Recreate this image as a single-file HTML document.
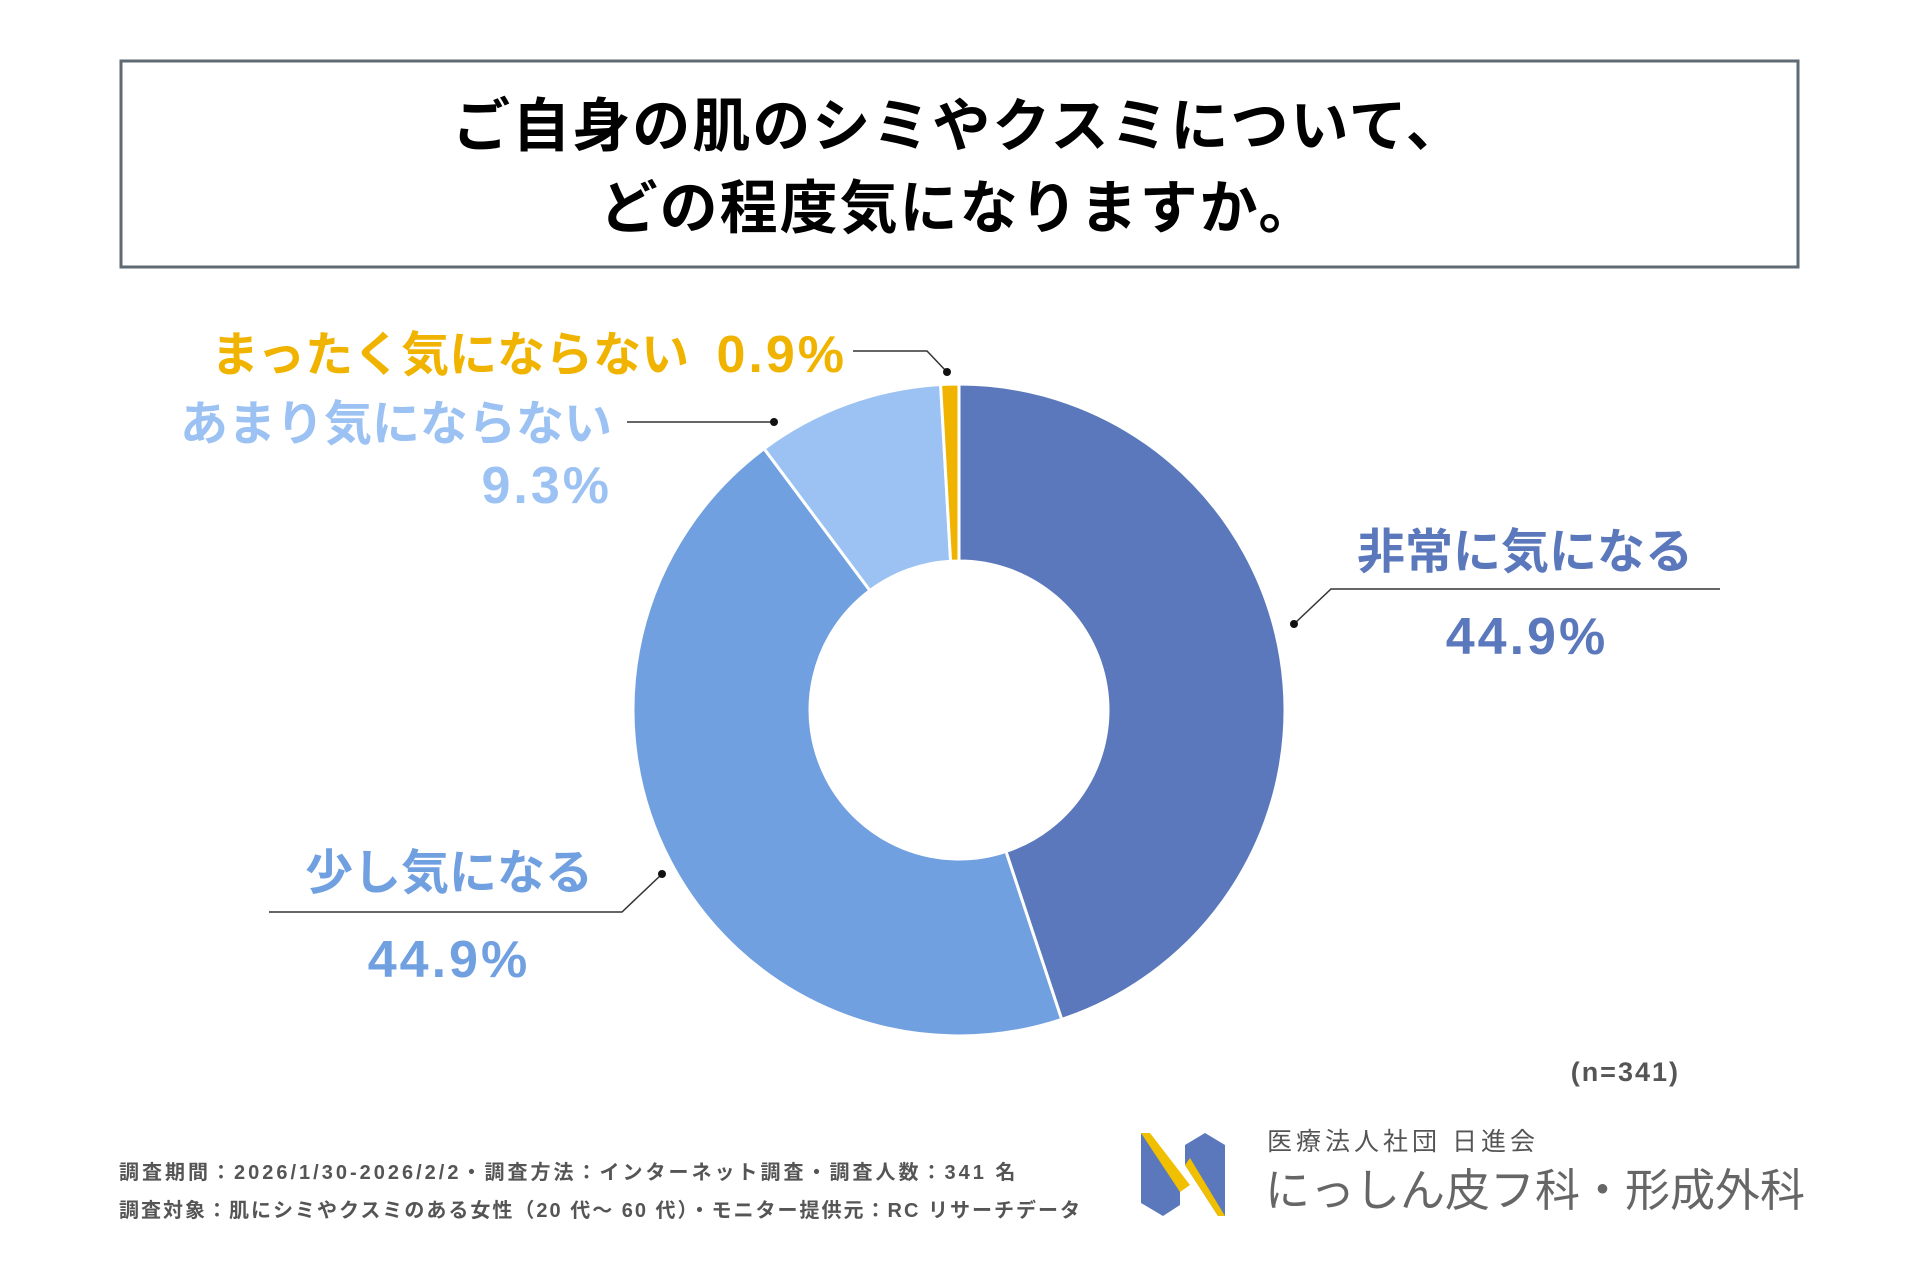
<!DOCTYPE html>
<html><head><meta charset="utf-8">
<style>
body{margin:0;width:1920px;height:1280px;background:#fff;overflow:hidden;font-family:"Liberation Sans","Noto Sans CJK JP",sans-serif;}
svg text{font-family:"Liberation Sans","Noto Sans CJK JP",sans-serif;}
</style></head>
<body>
<svg width="1920" height="1280" viewBox="0 0 1920 1280" xmlns="http://www.w3.org/2000/svg">
  <rect x="121" y="61" width="1677" height="206" fill="#fff" stroke="#5f6a72" stroke-width="3"/>
  <text x="959" y="146" text-anchor="middle" font-size="58" font-weight="bold" letter-spacing="2" fill="#000">ご自身の肌のシミやクスミについて、</text>
  <text x="959" y="228" text-anchor="middle" font-size="58" font-weight="bold" letter-spacing="2" fill="#000">どの程度気になりますか。</text>
  <g id="donut"></g>
  <g>
    <text x="1525" y="568" text-anchor="middle" font-size="48" font-weight="bold" fill="#5a78bb">非常に気になる</text>
    <text id="v0" x="1527" y="654" text-anchor="middle" font-size="52" font-weight="bold" letter-spacing="3" fill="#5a78bb"></text>
    <polyline points="1294,624 1331,589 1720,589" fill="none" stroke="#333" stroke-width="1.5"/>
    <circle cx="1294" cy="624" r="4" fill="#111"/>

    <text x="449" y="889" text-anchor="middle" font-size="48" font-weight="bold" fill="#71a0e0">少し気になる</text>
    <text id="v1" x="449" y="977" text-anchor="middle" font-size="52" font-weight="bold" letter-spacing="3" fill="#71a0e0"></text>
    <polyline points="269,912 622,912 662,874" fill="none" stroke="#333" stroke-width="1.5"/>
    <circle cx="662" cy="874" r="4" fill="#111"/>

    <text x="612" y="440" text-anchor="end" font-size="48" font-weight="bold" fill="#9bc2f2">あまり気にならない</text>
    <text id="v2" x="612" y="503" text-anchor="end" font-size="52" font-weight="bold" letter-spacing="3" fill="#9bc2f2"></text>
    <line x1="627" y1="422" x2="774" y2="422" stroke="#333" stroke-width="1.5"/>
    <circle cx="774" cy="422" r="4" fill="#111"/>

    <text x="211" y="371" font-size="48" font-weight="bold" fill="#f0b400">まったく気にならない</text>
    <text id="v3" x="847" y="372" text-anchor="end" font-size="52" font-weight="bold" letter-spacing="3" fill="#f0b400"></text>
    <polyline points="853,351 927,351 947,372" fill="none" stroke="#333" stroke-width="1.5"/>
    <circle cx="947" cy="372" r="4" fill="#111"/>
  </g>
  <text x="1680" y="1081" text-anchor="end" font-size="27" font-weight="bold" letter-spacing="2" fill="#555">(n=341)</text>
  <text x="119" y="1179" font-size="20" font-weight="bold" letter-spacing="3" fill="#555">調査期間：2026/1/30-2026/2/2・調査方法：インターネット調査・調査人数：341 名</text>
  <text x="119" y="1217" font-size="20" font-weight="bold" letter-spacing="2.0" fill="#555">調査対象：肌にシミやクスミのある女性（20 代～ 60 代）・モニター提供元：RC リサーチデータ</text>
  <g>
    <polygon points="1141,1133 1180,1180 1180,1205 1163,1216 1141,1203" fill="#5a78bb"/>
    <polygon points="1141,1133 1150,1133 1190,1185 1180,1192" fill="#f0c000"/>
    <polygon points="1205,1133 1225,1145 1225,1216 1218,1216 1185,1165 1185,1145" fill="#5a78bb"/>
    <polygon points="1185,1165 1218,1216 1225,1216 1190,1158" fill="#f0c000"/>
    <text x="1267" y="1150" font-size="25" letter-spacing="4" fill="#555">医療法人社団 日進会</text>
    <text x="1265" y="1206" font-size="45" fill="#666">にっしん皮フ科・形成外科</text>
  </g>
</svg>
<script>
const categories = ["非常に気になる","少し気になる","あまり気にならない","まったく気にならない"];
const values = [44.9, 44.9, 9.3, 0.9];
const colors = ["#5a78bb","#71a0e0","#9bc2f2","#f0b400"];
const cx=959, cy=710, R=326, r=149;
const g=document.getElementById('donut');
const total=values.reduce((a,b)=>a+b,0);
let a0=-Math.PI/2;
function pt(rad,a){return [cx+rad*Math.cos(a), cy+rad*Math.sin(a)];}
values.forEach((v,i)=>{
  const a1=a0+v/total*2*Math.PI;
  const large=(a1-a0)>Math.PI?1:0;
  const [x0,y0]=pt(R,a0),[x1,y1]=pt(R,a1),[x2,y2]=pt(r,a1),[x3,y3]=pt(r,a0);
  const p=document.createElementNS('http://www.w3.org/2000/svg','path');
  p.setAttribute('d',`M${x0},${y0} A${R},${R} 0 ${large} 1 ${x1},${y1} L${x2},${y2} A${r},${r} 0 ${large} 0 ${x3},${y3} Z`);
  p.setAttribute('fill',colors[i]);
  p.setAttribute('stroke','#fff');
  p.setAttribute('stroke-width','3');
  
  
  g.appendChild(p);
  document.getElementById('v'+i).textContent=v.toFixed(1)+'%';
  a0=a1;
});
</script>
</body></html>
